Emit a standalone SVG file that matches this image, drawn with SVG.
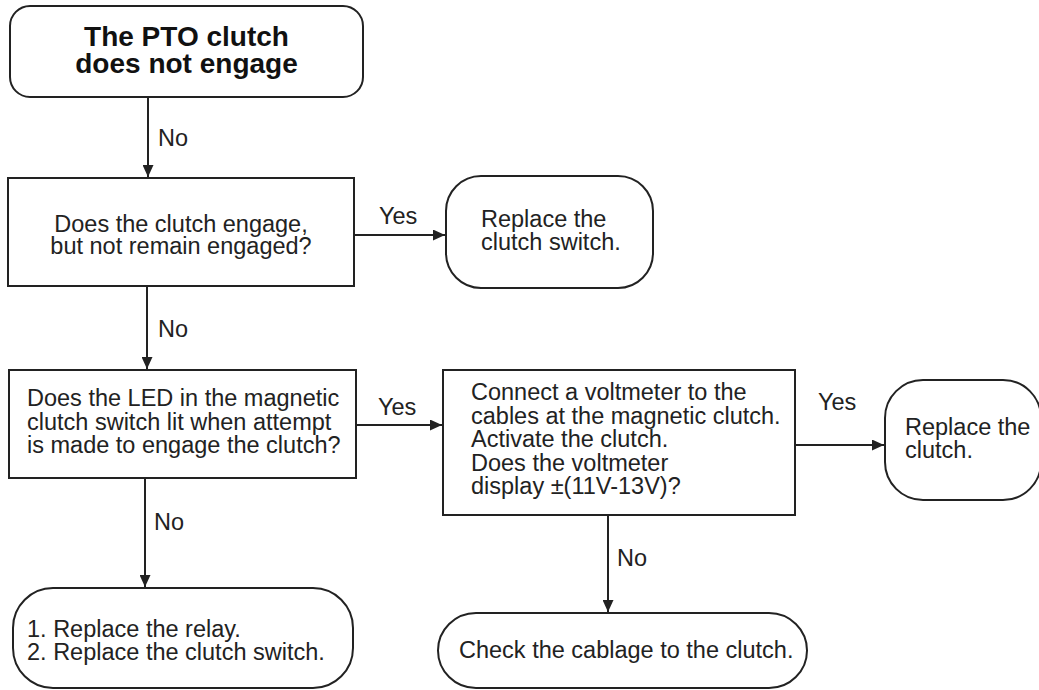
<svg xmlns="http://www.w3.org/2000/svg" width="1039" height="690" viewBox="0 0 1039 690">
<style>
.box{fill:#fff;stroke:#222;stroke-width:2}
.t{font-family:"Liberation Sans",Arial,sans-serif;font-size:23.5px;fill:#222}
.title{font-family:"Liberation Sans",Arial,sans-serif;font-size:28px;font-weight:bold;fill:#111}
.edge{stroke:#222;stroke-width:2;fill:none;marker-end:url(#arr)}
</style>
<defs>
<marker id="arr" markerUnits="userSpaceOnUse" markerWidth="13" markerHeight="11" refX="12" refY="5.5" orient="auto">
<path d="M0,0 L12,5.5 L0,11 z" fill="#222"/>
</marker>
</defs>
<rect width="1039" height="690" fill="#fff"/>
<g id="connectors">
<line class="edge" x1="148" y1="97" x2="148" y2="177"/>
<text class="t" x="158" y="146">No</text>
<line class="edge" x1="354" y1="235" x2="445" y2="235"/>
<text class="t" x="379" y="224">Yes</text>
<line class="edge" x1="147" y1="286" x2="147" y2="369"/>
<text class="t" x="158" y="337">No</text>
<line class="edge" x1="356" y1="425" x2="442" y2="425"/>
<text class="t" x="378" y="415">Yes</text>
<line class="edge" x1="145" y1="478" x2="145" y2="587"/>
<text class="t" x="154" y="530">No</text>
<line class="edge" x1="795" y1="445" x2="884" y2="445"/>
<text class="t" x="818" y="410">Yes</text>
<line class="edge" x1="608" y1="515" x2="608" y2="612"/>
<text class="t" x="617" y="566">No</text>
</g>
<g id="start">
<rect class="box" x="10" y="6" width="353" height="91" rx="20"/>
<text class="title" x="186.5" y="46" text-anchor="middle">The PTO clutch</text>
<text class="title" x="186.5" y="73" text-anchor="middle">does not engage</text>
</g>
<g id="q1">
<rect class="box" x="8" y="178" width="346" height="108"/>
<text class="t" x="181" y="232" text-anchor="middle">Does the clutch engage,</text>
<text class="t" x="181" y="254" text-anchor="middle">but not remain engaged?</text>
</g>
<g id="a1">
<rect class="box" x="446" y="176" width="207" height="112" rx="35"/>
<text class="t" x="481" y="227">Replace the</text>
<text class="t" x="481" y="250">clutch switch.</text>
</g>
<g id="q2">
<rect class="box" x="9" y="370" width="347" height="108"/>
<text class="t" x="27" y="406">Does the LED in the magnetic</text>
<text class="t" x="27" y="430">clutch switch lit when attempt</text>
<text class="t" x="27" y="453">is made to engage the clutch?</text>
</g>
<g id="a2">
<rect class="box" x="13" y="588" width="340" height="100" rx="40"/>
<text class="t" x="27" y="637">1. Replace the relay.</text>
<text class="t" x="27" y="660">2. Replace the clutch switch.</text>
</g>
<g id="q3">
<rect class="box" x="443" y="370" width="352" height="145"/>
<text class="t" x="471" y="400">Connect a voltmeter to the</text>
<text class="t" x="471" y="423.5">cables at the magnetic clutch.</text>
<text class="t" x="471" y="447">Activate the clutch.</text>
<text class="t" x="471" y="470.5">Does the voltmeter</text>
<text class="t" x="471" y="494">display ±(11V-13V)?</text>
</g>
<g id="a3">
<rect class="box" x="885" y="380" width="156" height="120" rx="38"/>
<text class="t" x="905" y="435">Replace the</text>
<text class="t" x="905" y="458">clutch.</text>
</g>
<g id="a4">
<rect class="box" x="438" y="613" width="369" height="75" rx="38"/>
<text class="t" x="459" y="658">Check the cablage to the clutch.</text>
</g>
</svg>
